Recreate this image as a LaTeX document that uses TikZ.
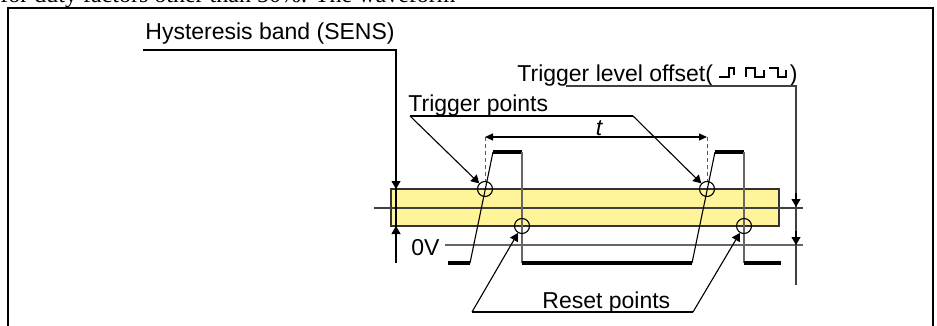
\documentclass[tikz,border=0pt]{standalone}
\usepackage{fontspec}
\setmainfont{Liberation Serif}
\newfontfamily\labelfont{Liberation Sans}
\usepackage{xcolor}
\usepackage{tikz}
\usetikzlibrary{arrows.meta, positioning, calc}

\definecolor{bandyellow}{RGB}{255,244,153}

\begin{document}
\begin{tikzpicture}[
    x=0.5pt, y=-0.5pt,
    lbl/.style={anchor=base west, inner sep=0pt, font=\labelfont\fontsize{11.5}{13}\selectfont},
    thin line/.style={line width=0.55pt},
    refline/.style={line width=0.55pt, black!60},
    wave/.style={line width=1.6pt, line cap=butt},
    ptcircle/.style={circle, draw, line width=0.55pt, minimum size=7.5pt, inner sep=0pt},
    arrow/.style={-{Triangle[length=4pt, width=4.5pt]}, line width=0.55pt},
    dimarrow/.style={{Triangle[length=4pt, width=3.5pt]}-{Triangle[length=4pt, width=3.5pt]}, line width=0.55pt},
    dashline/.style={line width=0.5pt, black!65, dash pattern=on 2pt off 1.5pt},
]
\clip (0,0) rectangle (937,326);

\node[anchor=base west, inner sep=0pt, font=\fontsize{12}{14}\selectfont] (caption) at (0,3) {for duty factors other than 50\%. The waveform};
\draw[line width=1pt] (8,340) -- (8,8) -- (933,8) -- (933,340);

\fill[bandyellow] (391,189) rectangle (779,226);
\draw[thin line, black!80] (391,189) rectangle (779,226);
\draw[refline, black!75] (374,208) -- (803,208);
\draw[refline] (445,245) -- (803,245);

\node[lbl] (hyst) at (145,40) {Hysteresis band (SENS)};
\node[lbl] (trig) at (408,112) {Trigger points};
\node[lbl] (offs) at (517,82) {Trigger level offset(\hspace{38.5pt})};
\node[lbl] (reset) at (542,308) {Reset points};
\node[lbl] (zero) at (411,255) {0V};
\node[lbl, anchor=base, font=\labelfont\itshape\fontsize{11.5}{13}\selectfont] (tlab) at (599,135) {t};

\draw[thin line] (719,77) -- (729,77) -- (729,68) -- (734,68) -- (734,75);
\draw[thin line] (746,77) -- (746,68) -- (755,68) -- (755,77) -- (764,77) -- (764,70);
\draw[thin line] (769,68) -- (778,68) -- (778,77) -- (786,77) -- (786,70);

\draw[wave] (448,263) -- (470,263);
\draw[thin line] (470,263) -- (493,152);
\draw[wave] (493,152) -- (522,152);
\draw[refline] (522,152) -- (522,263);
\draw[wave] (522,263) -- (692,263);
\draw[thin line] (692,263) -- (715,152);
\draw[wave] (715,152) -- (744,152);
\draw[refline] (744,152) -- (744,263);
\draw[wave] (744,263) -- (781,263);

\node[ptcircle] (tp1) at (485,189) {};
\node[ptcircle] (tp2) at (707,189) {};
\node[ptcircle] (rp1) at (522,226) {};
\node[ptcircle] (rp2) at (744,226) {};

\coordinate (hystL) at (143,50);
\coordinate (hystR) at (396,50);
\coordinate (hystB) at (396,263);
\draw[thin line] (hystL) -- (hystR) -- (hystB);
\draw[arrow] (396,175) -- (396,189);
\draw[arrow] (396,240) -- (396,226);

\coordinate (offsL) at (566,86);
\coordinate (offsR) at (796,86);
\coordinate (offsB) at (796,285);
\draw[refline, black!75] (offsL) -- (offsR) -- (offsB);
\draw[arrow] (796,193) -- (796,207);
\draw[arrow] (796,231) -- (796,245);

\coordinate (trigL) at (410,116);
\coordinate (trigR) at (633,116);
\draw[thin line] (trigL) -- (trigR);
\draw[arrow] (trigL) -- (tp1);
\draw[arrow] (trigR) -- (tp2);

\coordinate (resetL) at (472,312);
\coordinate (resetR) at (693,312);
\draw[thin line] (resetL) -- (resetR);
\draw[arrow] (resetL) -- (rp1);
\draw[arrow] (resetR) -- (rp2);

\coordinate (tA) at (485,137);
\coordinate (tB) at (707,137);
\draw[dashline] (tA) -- (tp1.north);
\draw[dashline] (tB) -- (tp2.north);
\draw[dimarrow] (tA) -- (tB);
\end{tikzpicture}
\end{document}
